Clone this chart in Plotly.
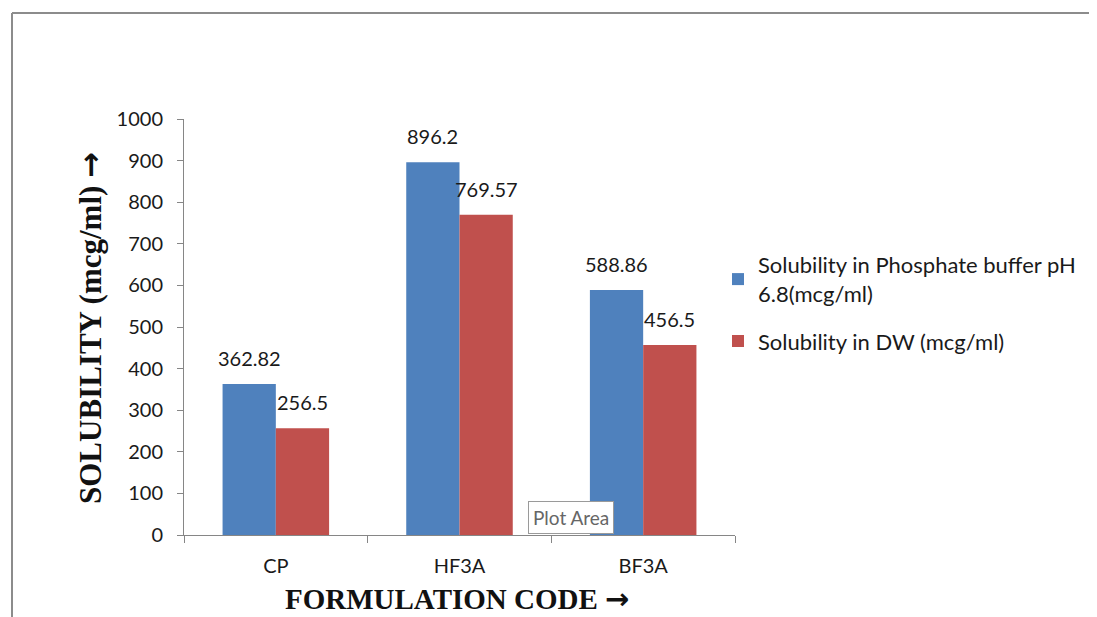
import plotly.graph_objects as go

categories = ["CP", "HF3A", "BF3A"]
phosphate = [362.82, 896.2, 588.86]
dw = [256.5, 769.57, 456.5]
phosphate_labels = ["362.82", "896.2", "588.86"]
dw_labels = ["256.5", "769.57", "456.5"]
y_ticks = [0, 100, 200, 300, 400, 500, 600, 700, 800, 900, 1000]

OFF = 8  # page body margin
W, H = 1097 - OFF, 617 - OFF
L, R, T, B = 184 - OFF, 735 - OFF, 119 - OFF, 535 - OFF

def px_x(p):
    return (p - OFF - L) / (R - L)

def px_y(p):
    return (B - (p - OFF)) / (B - T)

SANS = "Lato, Open Sans, sans-serif"
SERIF = "Liberation Serif, Times New Roman, serif"
ARROW = '<span style="font-family:DejaVu Sans">→</span>'

fig = go.Figure()
fig.add_trace(go.Bar(
    x=categories, y=phosphate, name="Solubility in Phosphate buffer pH<br>6.8(mcg/ml)",
    marker=dict(color="#4F81BD", line=dict(width=0)), legendgroup="a",
))
fig.add_trace(go.Bar(
    x=categories, y=dw, name="Solubility in DW (mcg/ml)",
    marker=dict(color="#C0504D", line=dict(width=0)), legendgroup="b",
))

bar_half = (R - L) / 3 * (1 - 0.42) / 4
for vals, labs, sh in [(phosphate, phosphate_labels, -bar_half), (dw, dw_labels, bar_half)]:
    for c, v, t in zip(categories, vals, labs):
        fig.add_annotation(x=c, y=v, text=t, showarrow=False, xshift=sh,
                           xanchor="center", yanchor="bottom", yshift=12,
                           font=dict(family=SANS, size=20, color="#1a1a1a"))

fig.update_layout(
    width=W, height=H,
    margin=dict(l=L, r=W - R, t=T, b=H - B, pad=0),
    paper_bgcolor="white", plot_bgcolor="white",
    barmode="group", bargap=0.42, bargroupgap=0,
    showlegend=True,
    legend=dict(x=px_x(718), y=px_y(244), xanchor="left", yanchor="top",
                font=dict(family=SANS, size=22, color="#1a1a1a"),
                tracegroupgap=16, bgcolor="rgba(0,0,0,0)"),
)

fig.update_xaxes(
    type="category", showgrid=False, showline=True, linecolor="#868686", linewidth=1,
    ticks="outside", tickson="boundaries", ticklen=7, tickcolor="#868686",
    tickfont=dict(family=SANS, size=20, color="#1a1a1a"),
    ticklabelstandoff=13,
)
fig.update_yaxes(
    range=[0, 1000], tickvals=y_ticks, showgrid=False, showline=True,
    linecolor="#868686", linewidth=1, ticks="outside", ticklen=6, tickcolor="#868686",
    tickfont=dict(family=SANS, size=20, color="#1a1a1a"),
    ticklabelstandoff=10, zeroline=False,
)

# Axis titles
fig.add_annotation(xref="paper", yref="paper", x=px_x(457), y=px_y(617),
                   text="<b>FORMULATION CODE " + ARROW + "</b>", showarrow=False,
                   xanchor="center", yanchor="bottom", borderpad=0,
                   font=dict(family=SERIF, size=29, color="#111"))
fig.add_annotation(xref="paper", yref="paper", x=px_x(90), y=px_y(328),
                   text="<b>SOLUBILITY (mcg/ml) " + ARROW + "</b>", showarrow=False,
                   textangle=-90, xanchor="center", yanchor="middle",
                   font=dict(family=SERIF, size=31, color="#111"))

# Chart border (top and left edges visible)
fig.add_shape(type="line", xref="paper", yref="paper",
              x0=px_x(12), x1=px_x(1110), y0=px_y(13), y1=px_y(13),
              line=dict(color="#8c8c8c", width=2))
fig.add_shape(type="line", xref="paper", yref="paper",
              x0=px_x(12), x1=px_x(12), y0=px_y(13), y1=px_y(640),
              line=dict(color="#8c8c8c", width=2))

# Tooltip-like "Plot Area" box
fig.add_annotation(xref="paper", yref="paper", x=px_x(571), y=px_y(517),
                   xanchor="center", yanchor="middle",
                   text="Plot Area", showarrow=False,
                   font=dict(family=SANS, size=19, color="#666"),
                   bgcolor="white", bordercolor="#9a9a9a", borderwidth=1, borderpad=4)

fig.write_html("out.html")
